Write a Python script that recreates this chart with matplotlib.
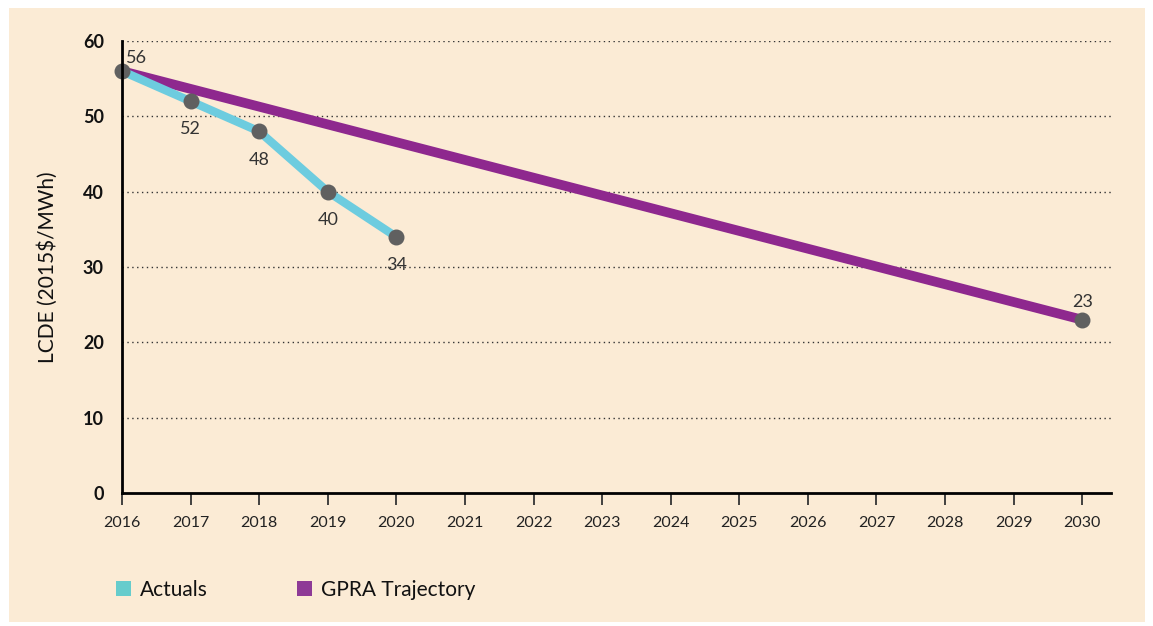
import matplotlib.pyplot as plt
from matplotlib.patches import Rectangle

plt.rcParams['font.family'] = ['Lato', 'DejaVu Sans']

# 数据
years_actual = [2016, 2017, 2018, 2019, 2020]
lcde_actual = [56, 52, 48, 40, 34]
years_gpra = [2016, 2030]
lcde_gpra = [56, 23]
x_ticks = list(range(2016, 2031))
y_ticks = [0, 10, 20, 30, 40, 50, 60]

bg = '#FBEBD5'
cyan = '#6DCCDF'
purple = '#8E288E'
grey = '#606060'

fig = plt.figure(figsize=(11.53, 6.26), dpi=100)
fig.patches.append(Rectangle((9 / 1153, 4 / 626), 1136 / 1153, 614 / 626,
                             transform=fig.transFigure, facecolor=bg,
                             edgecolor='none', zorder=-5))

ax = fig.add_axes([122 / 1153, 1 - 493 / 626, 989 / 1153, 452 / 626])
ax.set_zorder(5)
ax.set_facecolor('none')

ax.plot(years_gpra, lcde_gpra, color=purple, lw=7, solid_capstyle='round', zorder=3)
ax.plot(years_actual, lcde_actual, color=cyan, lw=6, solid_capstyle='butt', zorder=4)
ax.scatter(years_actual, lcde_actual, s=110, color=grey, zorder=5, clip_on=False)
ax.scatter(years_gpra[1:], lcde_gpra[1:], s=110, color=grey, zorder=5)

# 数据标签
ax.annotate(str(lcde_actual[0]), (years_actual[0], lcde_actual[0]), xytext=(3, 4),
            textcoords='offset points', fontsize=13, color='#333333', va='bottom')
for x, y in zip(years_actual[1:], lcde_actual[1:]):
    ax.annotate(str(y), (x, y), xytext=(0, -14.5), textcoords='offset points',
                fontsize=13, color='#333333', ha='center', va='top')
ax.annotate(str(lcde_gpra[1]), (years_gpra[1], lcde_gpra[1]), xytext=(0, 7),
            textcoords='offset points', fontsize=13, color='#333333',
            ha='center', va='bottom')

ax.set_xlim(2016, 2030.42)
ax.set_ylim(0, 60)
ax.set_xticks(x_ticks)
ax.set_xticklabels([str(t) for t in x_ticks], fontsize=11.5, color='#222222')
ax.set_yticks(y_ticks)
ax.set_yticklabels([str(t) for t in y_ticks], fontsize=13, fontweight='bold',
                   color='#111111')
ax.tick_params(axis='y', length=0, pad=13)
ax.tick_params(axis='x', length=8.5, width=1.3, color='#333333', pad=8, direction='out')

for y in y_ticks[1:]:
    ax.axhline(y, color='#333333', lw=1, ls=(0, (1, 2.5)), zorder=1)

for s in ['top', 'right']:
    ax.spines[s].set_visible(False)
ax.spines['left'].set_linewidth(2)
ax.spines['bottom'].set_linewidth(2)
ax.spines['left'].set_zorder(6)

ax.set_ylabel('LCDE (2015$/MWh)', fontsize=15, color='#111111', labelpad=18)

# 图例
fig.patches.append(Rectangle((116 / 1153, 1 - 596 / 626), 15 / 1153, 15 / 626,
                             transform=fig.transFigure, facecolor='#66CCCC',
                             edgecolor='none'))
fig.text(140 / 1153, 1 - 590 / 626, 'Actuals', fontsize=15, va='center', color='#111111')
fig.patches.append(Rectangle((297 / 1153, 1 - 596 / 626), 15 / 1153, 15 / 626,
                             transform=fig.transFigure, facecolor='#8E3A96',
                             edgecolor='none'))
fig.text(321 / 1153, 1 - 590 / 626, 'GPRA Trajectory', fontsize=15, va='center',
         color='#111111')

fig.savefig('out.png', dpi=100, facecolor='white')
